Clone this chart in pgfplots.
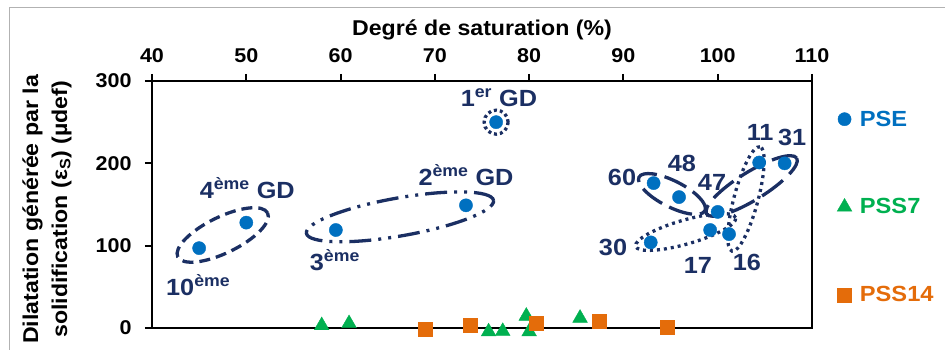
\documentclass[border=0pt]{standalone}
\usepackage{fontspec}
\setmainfont{Liberation Sans}[FakeStretch=1.08]
\usepackage{pgfplots}
\pgfplotsset{compat=1.18}
\usetikzlibrary{shapes.geometric}
\definecolor{pse}{HTML}{0070C0}
\definecolor{pss7}{HTML}{00B050}
\definecolor{pss14}{HTML}{E46C0A}
\definecolor{navy}{HTML}{1B2F63}
\newcommand\F[1]{\fontsize{#1}{#1}\selectfont\bfseries}
\tikzset{ell/.style={draw=navy, line width=3.3bp, ellipse, inner sep=0pt, outer sep=0pt},
  lab/.style={text=navy, font=\F{23.5}, inner sep=0pt}}
\begin{document}
\begin{tikzpicture}
\useasboundingbox (-152bp,-22bp) rectangle (793bp,328bp);
\draw[gray!60, line width=0.8bp] (-143bp,-40bp) rectangle (800bp,321bp);
\begin{axis}[
  scale only axis, width=660bp, height=247bp,
  xmin=40, xmax=110, ymin=0, ymax=300,
  xtick={40,50,...,110}, ytick={0,100,200,300},
  axis line style={line width=2.2bp, black},
  tick style={line width=2bp, black},
  major tick length=7bp, tick align=outside,
  xtick pos=right, xticklabel pos=right, ytick pos=left,
  /pgf/number format/assume math mode=true,
  xticklabel style={font=\F{20}, yshift=8bp},
  yticklabel style={font=\F{20}, xshift=-10bp},
  clip=false,
  xlabel={Degré de saturation (\%)},
  xlabel style={font=\F{21.5}, at={(axis description cs:0.5,1.207)}, anchor=center},
  ylabel={Dilatation générée par la\\solidification (ε\textsubscript{S}) (µdef)},
  ylabel style={font=\fontsize{21.5}{29}\selectfont\bfseries, align=center, at={(axis description cs:-0.1167,0.48)}, anchor=south},
  legend style={at={(1,0.49)}, anchor=west, xshift=25bp, draw=none, fill=none,
    font=\F{22}, row sep=67bp, inner sep=0pt,
    /tikz/every odd column/.append style={column sep=6bp}},
  legend cell align=left,
]
\addplot[only marks, mark=*, mark size=6.6bp, draw=pse, fill=pse] coordinates {
  (45,97) (50,128) (59.5,119) (73.3,149) (76.5,250)
  (93.2,176) (95.9,159) (100,141) (99.2,119) (101.2,114) (92.9,104)
  (104.4,201) (107.1,200)};
\addplot[only marks, mark=triangle*, mark size=8.5bp, draw=pss7, fill=pss7] coordinates {
  (58,3) (60.9,5.5) (75.7,-4.5) (77.2,-4) (79.7,14.5) (80,-4.5) (85.4,12)};
\addplot[only marks, mark=square*, mark size=7bp, draw=pss14, fill=pss14] coordinates {
  (69,-1.5) (73.7,3.5) (80.7,5.5) (87.4,8.5) (94.6,0.5)};
\legend{\textcolor{pse}{PSE},\textcolor{pss7}{PSS7},\textcolor{pss14}{PSS14}}

% enclosures
\node[ell, minimum width=100bp, minimum height=36bp, rotate=26, dash pattern=on 11bp off 6bp] at (axis cs:47.5,113) {};
\node[ell, minimum width=190bp, minimum height=38bp, rotate=10, dash pattern=on 22bp off 7bp on 3bp off 7bp on 3bp off 7bp] at (axis cs:66.3,135) {};
\node[ell, minimum width=24bp, minimum height=24bp, dash pattern=on 3bp off 3bp] at (axis cs:76.5,250) {};
\node[ell, minimum width=74bp, minimum height=26bp, rotate=-27, dash pattern=on 24bp off 8bp] at (axis cs:95.15,162.8) {};
\node[ell, minimum width=106bp, minimum height=28bp, rotate=31.7, dash pattern=on 26bp off 9bp] at (axis cs:103.6,172.5) {};
\node[ell, minimum width=108bp, minimum height=24bp, rotate=75, dash pattern=on 3bp off 4bp] at (axis cs:103.0,156.7) {};
\node[ell, minimum width=104bp, minimum height=24bp, rotate=16, dash pattern=on 3bp off 4bp] at (axis cs:96.6,116.6) {};

% labels
\node[lab] at (axis cs:76.8,280) {1\textsuperscript{er} GD};
\node[lab] at (axis cs:73.3,186) {2\textsuperscript{ème} GD};
\node[lab] at (axis cs:59.4,82.6) {3\textsuperscript{ème}};
\node[lab] at (axis cs:50.1,170) {4\textsuperscript{ème} GD};
\node[lab] at (axis cs:44.9,52.2) {10\textsuperscript{ème}};
\node[lab] at (axis cs:89.85,183.4) {60};
\node[lab] at (axis cs:96.2,200.4) {48};
\node[lab] at (axis cs:99.4,177.3) {47};
\node[lab] at (axis cs:104.5,238) {11};
\node[lab] at (axis cs:107.9,232) {31};
\node[lab] at (axis cs:88.9,98.4) {30};
\node[lab] at (axis cs:97.9,76.5) {17};
\node[lab] at (axis cs:103.1,80.2) {16};
\end{axis}
\end{tikzpicture}
\end{document}
